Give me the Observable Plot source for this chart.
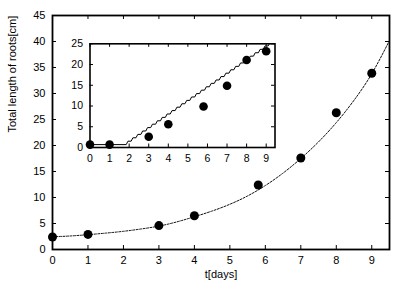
<!DOCTYPE html>
<html><head><meta charset="utf-8">
<script src="https://cdn.jsdelivr.net/npm/d3@7"></script>
<script src="https://cdn.jsdelivr.net/npm/@observablehq/plot@0.6"></script>
<style>
html,body{margin:0;padding:0;background:#fff;}
#wrap{position:relative;width:399px;height:290px;}
#wrap svg{position:absolute;overflow:visible;}
</style></head><body><div id="wrap"></div>
<script>
// measured data (days, total root length in cm)
const days = [0, 1, 3, 4, 5.8, 7, 8, 9];
const mainLength = [2.4, 2.9, 4.6, 6.5, 12.4, 17.6, 26.3, 33.9];
const insetLength = [0.7, 0.7, 2.6, 5.6, 9.9, 14.9, 21.1, 23.2];
// fitted curve
const fitT = [0, 0.5, 1, 1.5, 2, 2.5, 3, 3.5, 4, 4.5, 5, 5.5, 6, 6.5, 7, 7.5, 8, 8.5, 9, 9.5];
const fitLength = [2.45, 2.6, 2.85, 3.15, 3.5, 3.95, 4.5, 5.3, 6.3, 7.4, 8.7, 10.3, 12.3, 14.7, 17.5, 20.7, 24.4, 28.7, 33.8, 40.2];
// staircase model (corner points)
const stairT = [0, 1.85, 1.94, 2.10, 2.19, 2.35, 2.44, 2.60, 2.69, 2.85, 2.94, 3.10, 3.19, 3.35, 3.44, 3.60, 3.69, 3.85, 3.94, 4.10, 4.19, 4.35, 4.44, 4.60, 4.69, 4.85, 4.94, 5.10, 5.19, 5.35, 5.44, 5.60, 5.69, 5.85, 5.94, 6.10, 6.19, 6.35, 6.44, 6.60, 6.69, 6.85, 6.94, 7.10, 7.19, 7.35, 7.44, 7.60, 7.69, 7.85, 7.94, 8.10, 8.19, 8.35, 8.44, 8.60, 8.69, 8.85, 8.94, 9.10, 9.16];
const stairLength = [0.7, 0.7, 1.52, 1.52, 2.34, 2.34, 3.16, 3.16, 3.98, 3.98, 4.80, 4.80, 5.62, 5.62, 6.44, 6.44, 7.26, 7.26, 8.08, 8.08, 8.90, 8.90, 9.72, 9.72, 10.54, 10.54, 11.36, 11.36, 12.18, 12.18, 13.00, 13.00, 13.82, 13.82, 14.64, 14.64, 15.46, 15.46, 16.28, 16.28, 17.10, 17.10, 17.92, 17.92, 18.74, 18.74, 19.56, 19.56, 20.38, 20.38, 21.20, 21.20, 22.02, 22.02, 22.84, 22.84, 23.66, 23.66, 24.48, 24.48, 25.0];
const mainXTicks = [0, 1, 2, 3, 4, 5, 6, 7, 8, 9];
const mainYTicks = [0, 5, 10, 15, 20, 25, 30, 35, 40, 45];
const insetXTicks = [0, 1, 2, 3, 4, 5, 6, 7, 8, 9];
const insetYTicks = [0, 5, 10, 15, 20, 25];
const xLabel = "t[days]";
const yLabel = "Total length of roots[cm]";

const FONT = "'Liberation Sans', Arial, Helvetica, sans-serif";
const mainPts = days.map((t, i) => ({t, len: mainLength[i]}));
const insetPts = days.map((t, i) => ({t, len: insetLength[i]}));
const fit = fitT.map((t, i) => ({t, len: fitLength[i]}));
const stairs = stairT.map((t, i) => ({t, len: stairLength[i]}));

const W = 399, H = 290, mT = 15, mR = 10, mB = 41, mL = 52;
const fw = W - mL - mR, fh = H - mT - mB, tk = 4;

const main = Plot.plot({
  width: W, height: H, marginTop: mT, marginRight: mR, marginBottom: mB, marginLeft: mL,
  style: {fontFamily: FONT, fontSize: "11px", color: "#000", background: "white"},
  x: {domain: [0, 9.5]},
  y: {domain: [0, 45]},
  marks: [
    Plot.axisX({ticks: mainXTicks, tickSize: 0, tickPadding: 7, label: null, fontSize: 11}),
    Plot.axisY({ticks: mainYTicks, tickSize: 0, tickPadding: 7, label: null, fontSize: 11}),
    Plot.tickX(mainXTicks, {x: d => d, insetTop: fh - tk, stroke: "#000"}),
    Plot.tickX(mainXTicks, {x: d => d, insetBottom: fh - tk, stroke: "#000"}),
    Plot.tickY(mainYTicks, {y: d => d, insetRight: fw - tk, stroke: "#000"}),
    Plot.tickY(mainYTicks, {y: d => d, insetLeft: fw - tk, stroke: "#000"}),
    Plot.line(fit, {x: "t", y: "len", curve: "natural", stroke: "#111", strokeWidth: 1, strokeDasharray: "2,1.5"}),
    Plot.dot(mainPts, {x: "t", y: "len", r: 4.5, fill: "#000", stroke: null}),
    Plot.frame({stroke: "#000", strokeWidth: 1.8}),
    Plot.text([xLabel], {frameAnchor: "bottom", dy: 28, text: d => d, fontSize: 11, fill: "#000"}),
    Plot.text([yLabel], {frameAnchor: "left", dx: -40, rotate: -90, text: d => d, fontSize: 11, fill: "#000"})
  ]
});
main.style.left = "0px"; main.style.top = "0px";

const iW = 220, iH = 135, iT = 8.3, iR = 5.5, iB = 23, iL = 29.5;
const ifw = iW - iL - iR, ifh = iH - iT - iB, itk = 3.5;
const inset = Plot.plot({
  width: iW, height: iH, marginTop: iT, marginRight: iR, marginBottom: iB, marginLeft: iL,
  style: {fontFamily: FONT, fontSize: "10.5px", color: "#000", background: "transparent"},
  x: {domain: [0, 9.45]},
  y: {domain: [0, 25]},
  marks: [
    Plot.frame({fill: "white"}),
    Plot.axisX({ticks: insetXTicks, tickSize: 0, tickPadding: 7, label: null, fontSize: 10.5}),
    Plot.axisY({ticks: insetYTicks, tickSize: 0, tickPadding: 7, label: null, fontSize: 10.5}),
    Plot.tickX(insetXTicks, {x: d => d, insetTop: ifh - itk, stroke: "#000"}),
    Plot.tickX(insetXTicks, {x: d => d, insetBottom: ifh - itk, stroke: "#000"}),
    Plot.tickY(insetYTicks, {y: d => d, insetRight: ifw - itk, stroke: "#000"}),
    Plot.tickY(insetYTicks, {y: d => d, insetLeft: ifw - itk, stroke: "#000"}),
    Plot.line(stairs, {x: "t", y: "len", stroke: "#000", strokeWidth: 1}),
    Plot.dot(insetPts, {x: "t", y: "len", r: 4.3, fill: "#000", stroke: null}),
    Plot.frame({stroke: "#000", strokeWidth: 1.6})
  ]
});
inset.style.left = "60px"; inset.style.top = "35px";

const wrap = document.getElementById("wrap");
wrap.appendChild(main);
wrap.appendChild(inset);
</script></body></html>
